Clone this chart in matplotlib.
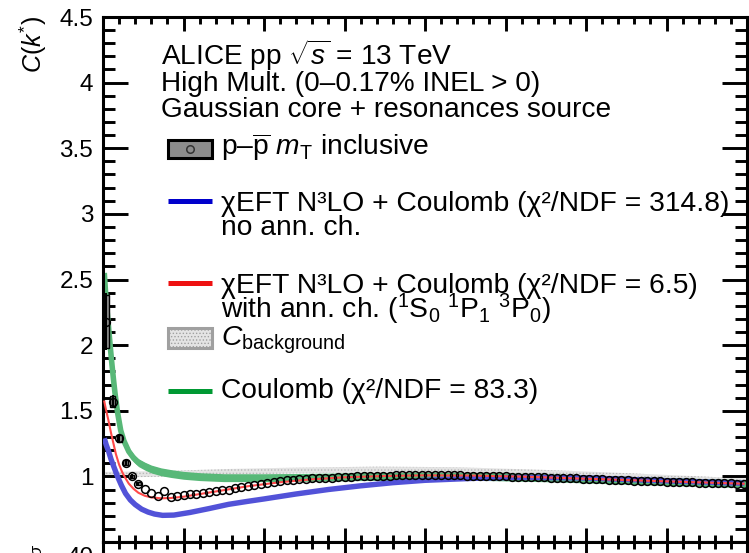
import numpy as np
import matplotlib
matplotlib.use("Agg")
import matplotlib.pyplot as plt
from matplotlib.patches import Rectangle
from matplotlib.lines import Line2D
from matplotlib.ticker import MultipleLocator, FixedLocator, NullFormatter

plt.rcParams['font.family'] = ['Liberation Sans', 'DejaVu Sans']
plt.rcParams['mathtext.fontset'] = 'custom'
plt.rcParams['mathtext.rm'] = 'Liberation Sans'
plt.rcParams['mathtext.it'] = 'Liberation Sans:italic'
plt.rcParams['mathtext.bf'] = 'Liberation Sans:bold'
plt.rcParams['mathtext.sf'] = 'Liberation Sans'
plt.rcParams['hatch.linewidth'] = 0.6

# ---------------- measured correlation function (k* bin centres in MeV/c) ----------------
kstar = np.arange(2, 400, 4)
cf = [2.18, 1.57, 1.29, 1.105, 1.00, 0.944, 0.906, 0.876, 0.852, 0.888,
      0.842, 0.850, 0.855, 0.863, 0.868, 0.876, 0.880, 0.888, 0.893, 0.900,
      0.914, 0.920, 0.926, 0.934, 0.944, 0.952, 0.957, 0.962, 0.972, 0.972,
      0.977, 0.982, 0.985, 0.990, 0.990, 0.990, 0.993, 0.995, 0.998, 1.000,
      1.000, 1.002, 1.004, 1.005, 1.006, 1.007, 1.008, 1.008, 1.009, 1.009,
      1.009, 1.009, 1.008, 1.008, 1.007, 1.007, 1.006, 1.005, 1.004, 1.003,
      1.002, 1.001, 1.000, 0.999, 0.997, 0.996, 0.995, 0.993, 0.992, 0.991,
      0.989, 0.988, 0.986, 0.984, 0.982, 0.980, 0.978, 0.977, 0.975, 0.973,
      0.972, 0.970, 0.968, 0.967, 0.965, 0.963, 0.961, 0.960, 0.958, 0.957,
      0.955, 0.954, 0.952, 0.951, 0.949, 0.948, 0.947, 0.946, 0.945, 0.944]
# uncertainties of the lowest bins (larger ones are hidden under the markers)
stat_err = [0.22, 0.05, 0.03, 0.02, 0.015, 0.012]
syst_err = [0.20, 0.045, 0.025, 0.018, 0.012, 0.010]

# ---------------- model curves ----------------
k_coul = [0.8, 1.5, 2.5, 3.5, 4.5, 5.5, 6.5, 7.5, 9, 11, 13, 16, 19, 22, 26, 30,
          36, 42, 50, 60, 75, 100, 130, 160, 200, 240, 280, 320, 360, 400]
c_coul = [2.55, 2.42, 2.27, 2.13, 1.99, 1.86, 1.74, 1.63, 1.49, 1.35, 1.27, 1.19,
          1.14, 1.105, 1.078, 1.056, 1.035, 1.022, 1.008, 0.998, 0.99, 0.99,
          0.993, 0.998, 1.002, 0.998, 0.988, 0.972, 0.958, 0.944]
coul_halfwidth = 0.03

k_noann = [0.8, 2, 3.5, 5, 7, 9, 11.5, 14, 17, 20, 24, 28, 32, 37, 44, 54, 66, 78,
           90, 100, 120, 140, 160, 180, 200, 230, 260, 300, 350, 398]
c_noann = [1.29, 1.24, 1.19, 1.13, 1.065, 1.00, 0.93, 0.87, 0.82, 0.785, 0.75, 0.728,
           0.713, 0.703, 0.705, 0.725, 0.755, 0.787, 0.81, 0.828, 0.866, 0.90, 0.928,
           0.952, 0.97, 0.985, 0.993, 0.988, 0.966, 0.948]

k_ann = [0.8, 2, 3.5, 5, 6.5, 8, 10, 12, 14, 16, 19, 22, 26, 30, 36, 42, 50, 60, 75,
         90, 110, 130, 150, 175, 200, 230, 260, 300, 350, 398]
c_ann = [1.57, 1.50, 1.42, 1.33, 1.25, 1.17, 1.09, 1.03, 0.985, 0.945, 0.905, 0.875,
         0.852, 0.84, 0.833, 0.835, 0.845, 0.865, 0.895, 0.925, 0.955, 0.978, 0.993,
         1.003, 1.008, 1.006, 0.998, 0.982, 0.962, 0.944]

k_bkg = [0, 40, 80, 120, 170, 220, 280, 330, 400]
c_bkg = [1.012, 1.02, 1.035, 1.045, 1.052, 1.048, 1.025, 1.0, 0.962]
bkg_halfwidth = 0.022

# ---------------- colours ----------------
col_blue_band = '#5252d8'
col_red_band = '#ff4a4a'
col_green_band = '#58b878'
col_blue = '#0000cc'
col_red = '#ee1111'
col_green = '#009933'

W, H = 749, 553
fig = plt.figure(figsize=(W / 100, H / 100), dpi=100)


def fx(x):
    return x / W


def fy(y):
    return 1 - y / H


ax = fig.add_axes([fx(103), fy(542), (747 - 103) / W, (542 - 17) / H])
ax.set_xlim(0, 400)
ax.set_ylim(0.5, 4.5)

# background band
kb = np.asarray(k_bkg)
cb = np.asarray(c_bkg)
ax.fill_between(kb, cb - bkg_halfwidth, cb + bkg_halfwidth, facecolor='#e4e4e4',
                edgecolor='#b8b8b8', hatch='.....', linewidth=0, zorder=1)

# Coulomb-only band
kc = np.asarray(k_coul)
cc = np.asarray(c_coul)
ax.fill_between(kc, cc - coul_halfwidth, cc + coul_halfwidth, color=col_green_band,
                linewidth=0, zorder=2)
ax.plot(kc, cc, color=col_green_band, lw=4.0, solid_capstyle='butt', zorder=2)

# chiEFT without annihilation
ax.plot(k_noann, c_noann, color=col_blue_band, lw=3.9, solid_capstyle='butt', zorder=3)
# chiEFT with annihilation
ax.plot(k_ann, c_ann, color=col_red_band, lw=1.5, zorder=4)

# data: systematic boxes, statistical bars, markers
n_unc = len(stat_err)
for k, c, s in zip(kstar[:n_unc], cf[:n_unc], syst_err):
    ax.add_patch(Rectangle((k - 1.5, c - s), 3.0, 2 * s, facecolor='#8c8c8c',
                           edgecolor='black', linewidth=1.0, zorder=5))
ax.errorbar(kstar[:n_unc], cf[:n_unc], yerr=stat_err, fmt='none', ecolor='black',
            elinewidth=1.5, capsize=0, zorder=5)
ax.plot(kstar, cf, 'o', mfc='none', mec='black', ms=5.6, mew=1.1, zorder=6)

# axes styling
ax.xaxis.set_major_locator(MultipleLocator(50))
ax.xaxis.set_minor_locator(MultipleLocator(10))
ax.xaxis.set_major_formatter(NullFormatter())
yt = [1, 1.5, 2, 2.5, 3, 3.5, 4, 4.5]
ax.yaxis.set_major_locator(FixedLocator(yt))
ax.set_yticklabels(['1', '1.5', '2', '2.5', '3', '3.5', '4', '4.5'])
ax.yaxis.set_minor_locator(MultipleLocator(0.1))
for s in ax.spines.values():
    s.set_linewidth(2.2)
ax.tick_params(which='both', direction='in', top=True, right=True, width=2.1,
               labelsize=17.5, pad=7)
ax.tick_params(axis='y', which='major', length=18)
ax.tick_params(axis='y', which='minor', length=8.6)
ax.tick_params(axis='x', which='major', length=10)
ax.tick_params(axis='x', which='minor', length=5)

fig.text(fx(33), fy(16), r'$C(k^{*})$', rotation=90, ha='center', va='top', fontsize=18)

# lower (ratio) panel, only its top edge is inside the canvas
ax2 = fig.add_axes([fx(103), fy(542 + 234), (747 - 103) / W, 234 / H])
ax2.set_xlim(0, 400)
ax2.set_ylim(-45, 45)
ax2.xaxis.set_major_locator(MultipleLocator(50))
ax2.xaxis.set_minor_locator(MultipleLocator(10))
ax2.yaxis.set_major_locator(FixedLocator([40]))
ax2.set_yticklabels(['40'])
for s in ax2.spines.values():
    s.set_linewidth(2.2)
ax2.tick_params(which='both', direction='in', top=True, right=True, width=2.1,
                labelsize=17.5, pad=7, labelbottom=False)
ax2.tick_params(axis='y', which='major', length=18)
ax2.tick_params(axis='x', which='major', length=10)
ax2.tick_params(axis='x', which='minor', length=5)
fig.text(fx(33), fy(543), r'$n_{\sigma}$', rotation=90, ha='center', va='top', fontsize=18)

# header text
fs = 20.2
fig.text(fx(161), fy(65), r'ALICE pp $\sqrt{s}$ = 13 TeV', fontsize=fs, va='baseline')
fig.text(fx(161), fy(91), 'High Mult. (0–0.17% INEL > 0)', fontsize=fs, va='baseline')
fig.text(fx(161), fy(117), 'Gaussian core + resonances source', fontsize=fs, va='baseline')

# legend
fl = 20.3
x0, x1, xt = 168, 212, 221
fig.add_artist(Rectangle((fx(x0), fy(158)), (x1 - x0) / W, 18 / H, transform=fig.transFigure,
                         facecolor='#8c8c8c', edgecolor='black', linewidth=2.2))
fig.add_artist(Line2D([fx(190)], [fy(149)], marker='o', mfc='#8c8c8c', mec='#333333',
                      ms=5.4, mew=1.1, transform=fig.transFigure))
fig.text(fx(xt), fy(155), r'p–$\overline{\mathrm{p}}$ $m_{\mathrm{T}}$ inclusive',
         fontsize=fl, va='baseline')

fig.add_artist(Line2D([fx(x0), fx(x1)], [fy(201), fy(201)], color=col_blue, lw=3.6,
                      solid_capstyle='butt', transform=fig.transFigure))
fig.text(fx(xt), fy(211), 'χEFT N³LO + Coulomb (χ²/NDF = 314.8)', fontsize=fl, va='baseline')
fig.text(fx(xt), fy(235), 'no ann. ch.', fontsize=fl, va='baseline')

fig.add_artist(Line2D([fx(x0), fx(x1)], [fy(283), fy(283)], color=col_red, lw=3.6,
                      solid_capstyle='butt', transform=fig.transFigure))
fig.text(fx(xt), fy(293), 'χEFT N³LO + Coulomb (χ²/NDF = 6.5)', fontsize=fl, va='baseline')
fig.text(fx(xt), fy(318),
         r'with ann. ch. ($^{1}$S$_{0}$ $^{1}$P$_{1}$ $^{3}$P$_{0}$)',
         fontsize=fl, va='baseline')

fig.add_artist(Rectangle((fx(x0), fy(348)), (x1 - x0) / W, 20 / H, transform=fig.transFigure,
                         facecolor='#e4e4e4', edgecolor='#a0a0a0', hatch='.....',
                         linewidth=2.2))
fig.text(fx(xt), fy(346), r'$C_{\mathrm{background}}$', fontsize=fl, va='baseline')

fig.add_artist(Line2D([fx(x0), fx(x1)], [fy(391), fy(391)], color=col_green, lw=3.6,
                      solid_capstyle='butt', transform=fig.transFigure))
fig.text(fx(xt), fy(398), 'Coulomb (χ²/NDF = 83.3)', fontsize=fl, va='baseline')

fig.savefig('out.png', dpi=100)
